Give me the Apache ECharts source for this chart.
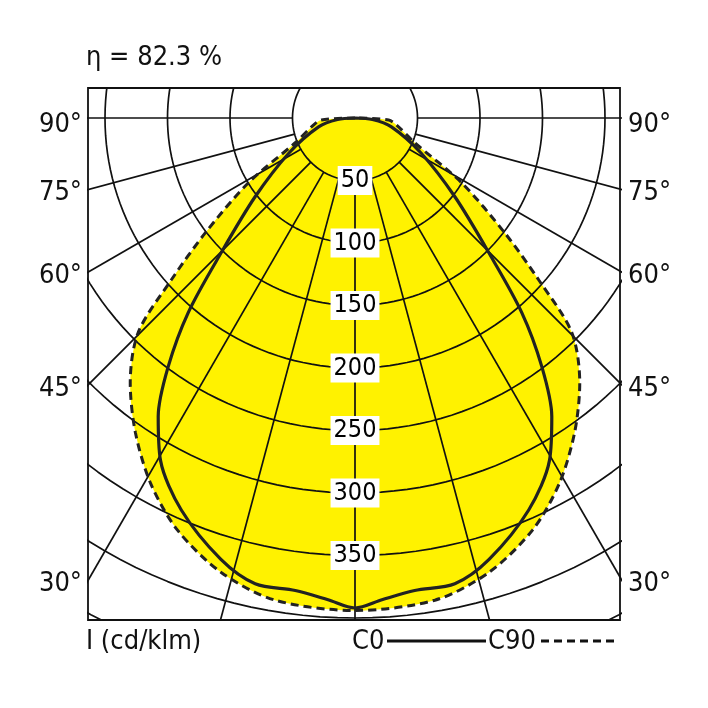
<!DOCTYPE html>
<html><head><meta charset="utf-8">
<script src="https://cdn.jsdelivr.net/npm/echarts@6/dist/echarts.min.js"></script>
<style>html,body{margin:0;padding:0;background:#fff}#c{width:708px;height:708px}</style>
</head><body><div id="c"></div>
<script>
// gamma angles (deg from nadir) and intensities (cd/klm)
const anglesC0 = [0, 3.2, 7.2, 12.1, 16.9, 23.9, 29.6, 33.4, 36.9, 40.6, 44.8, 51.7, 62, 76.3, 85, 90];
const c0       = [392, 386, 381, 381, 369, 343, 315, 286, 249, 205, 152, 102, 60, 30, 14, 0];
const anglesC90 = [0, 9.4, 16.4, 23.3, 29.2, 34.9, 40.3, 45.3, 48.6, 52.5, 58.7, 67.4, 80, 86.6, 90];
const c90       = [394, 391, 379, 359, 335, 307, 278, 244, 196, 151, 100, 52, 34, 27, 0];
const ringValues = [50, 100, 150, 200, 250, 300, 350];
const ringExtra = [400, 450];
const spokeAngles = [-90, -75, -60, -45, -30, -15, 0, 15, 30, 45, 60, 75, 90];
const angleLabels = ['90°', '75°', '60°', '45°', '30°'];
const efficiency = 'η = 82.3 %';

const FONT = "'Liberation Sans Narrow','DejaVu Sans Condensed','Liberation Sans',sans-serif";
const rad = d => d * Math.PI / 180;
function curvePts(angles, vals) {
  const pts = [];
  for (let i = angles.length - 1; i >= 0; i--) pts.push([-vals[i] * Math.sin(rad(angles[i])), vals[i] * Math.cos(rad(angles[i]))]);
  for (let i = 1; i < angles.length; i++) pts.push([vals[i] * Math.sin(rad(angles[i])), vals[i] * Math.cos(rad(angles[i]))]);
  return pts;
}
const series = [];
const c90pts = curvePts(anglesC90, c90), c0pts = curvePts(anglesC0, c0);
series.push({
  type: 'custom', silent: true, z: 1, clip: true, data: [[0, 0]],
  renderItem: (p, api) => ({
    type: 'polygon',
    shape: { points: c90pts.map(q => api.coord(q)), smooth: 0.3 },
    style: { fill: '#fff200' }
  })
});
const gridLine = { color: '#111', width: 1.7 };
ringValues.concat(ringExtra).forEach(r => {
  const d = [];
  for (let a = 0; a <= 360; a += 2) d.push([r * Math.sin(rad(a)), r * Math.cos(rad(a))]);
  series.push({ type: 'line', data: d, symbol: 'none', lineStyle: gridLine, silent: true, z: 2, clip: true });
});
spokeAngles.forEach(a => {
  series.push({ type: 'line', symbol: 'none', lineStyle: gridLine, silent: true, z: 2, clip: true,
    data: [[50 * Math.sin(rad(a)), 50 * Math.cos(rad(a))], [700 * Math.sin(rad(a)), 700 * Math.cos(rad(a))]] });
});
series.push({ type: 'line', data: c90pts, symbol: 'none', smooth: 0.3, z: 5, lineStyle: { color: '#222', width: 3, type: [8, 5] } });
series.push({ type: 'line', data: c0pts, symbol: 'none', smooth: 0.3, z: 6, lineStyle: { color: '#222', width: 3.2 } });
series.push({ type: 'scatter', symbolSize: 1, itemStyle: { opacity: 0 }, z: 8, data: ringValues.map(r => [0, r]),
  label: { show: true, position: 'inside', opacity: 1, formatter: p => String(p.value[1]), fontFamily: FONT, fontSize: 25,
    color: '#000', backgroundColor: '#ffffff', padding: [2, 3] } });

const graphic = [
  { type: 'text', left: 86, top: 44, style: { text: efficiency, font: '27px ' + FONT, fill: '#111' } },
  { type: 'text', left: 86, top: 628, style: { text: 'I (cd/klm)', font: '27px ' + FONT, fill: '#111' } },
  { type: 'text', left: 352, top: 628, style: { text: 'C0', font: '27px ' + FONT, fill: '#111' } },
  { type: 'line', shape: { x1: 387, y1: 641, x2: 486, y2: 641 }, style: { stroke: '#111', lineWidth: 3 } },
  { type: 'text', left: 488, top: 628, style: { text: 'C90', font: '27px ' + FONT, fill: '#111' } },
  { type: 'line', shape: { x1: 541, y1: 641, x2: 618, y2: 641 }, style: { stroke: '#111', lineWidth: 3, lineDash: [8, 5] } }
];
const labelYs = [125, 193, 276, 389, 584];
angleLabels.forEach((t, i) => {
  graphic.push({ type: 'text', x: 82, y: labelYs[i], style: { text: t, font: '27px ' + FONT, fill: '#111', textAlign: 'right', textVerticalAlign: 'middle' } });
  graphic.push({ type: 'text', x: 628, y: labelYs[i], style: { text: t, font: '27px ' + FONT, fill: '#111', textAlign: 'left', textVerticalAlign: 'middle' } });
});

const chart = echarts.init(document.getElementById('c'));
chart.setOption({
  animation: false,
  grid: { left: 88, top: 88, width: 532, height: 532, show: true, borderColor: '#111', borderWidth: 1.8, backgroundColor: '#fff' },
  xAxis: { type: 'value', min: -213.6, max: 212, show: false },
  yAxis: { type: 'value', min: -24, max: 401.6, inverse: true, show: false },
  series, graphic
});
</script></body></html>
